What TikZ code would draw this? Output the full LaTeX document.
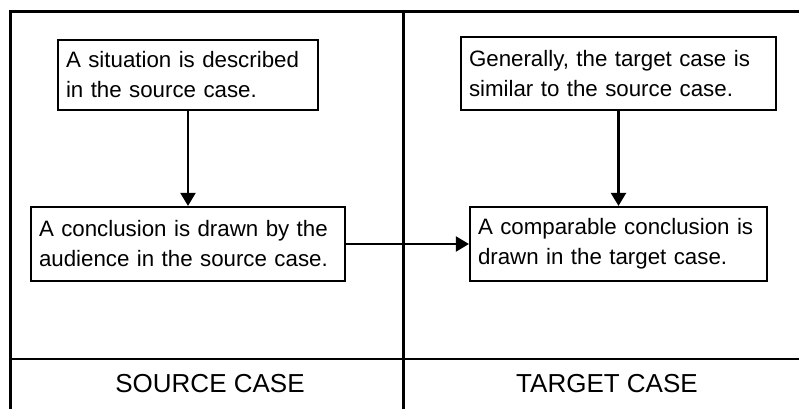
\documentclass[tikz,border=0pt]{standalone}
\usepackage{fontspec}
\setmainfont{Liberation Sans}
\usetikzlibrary{arrows.meta}
\begin{document}
\begin{tikzpicture}[x=1pt,y=-1pt,
  frame/.style={line width=3pt},
  casebox/.style={draw, line width=2.2pt, inner xsep=8pt, inner ysep=0pt, align=left,
    font=\fontsize{22.3}{30}\selectfont, anchor=center},
  flow/.style={line width=2.2pt, -{Triangle[length=13pt,width=15pt]}},
  caselabel/.style={font=\fontsize{26}{30}\selectfont, anchor=base}]
\useasboundingbox (0,0) rectangle (799,409);
\fill[white] (0,0) rectangle (799,409);
% frame
\coordinate (tl) at (10,12);
\coordinate (tr) at (799,12);
\coordinate (bl) at (10,409);
\coordinate (tm) at (403,12);
\coordinate (bm) at (403,409);
\coordinate (ml) at (10,359);
\coordinate (mr) at (799,359);
\draw[frame] (bl) -- (tl) -- (tr);
\draw[frame] (tm) -- (bm);
\draw[line width=2.4pt] (ml) -- (mr);
% boxes
\node[casebox, text width=244pt, minimum height=70pt] (s1) at (188,75)
  {A situation is described\\in the source case.};
\node[casebox, text width=298pt, minimum height=74pt] (s2) at (188,244)
  {A conclusion is drawn by the\\audience in the source case.};
\node[casebox, text width=299pt, minimum height=73pt] (t1) at (618.5,73.5)
  {Generally, the target case is\\similar to the source case.};
\node[casebox, text width=281pt, minimum height=74pt] (t2) at (618.5,244)
  {A comparable conclusion is\\drawn in the target case.};
% arrows
\draw[flow] (s1) -- (s2);
\draw[flow] (t1) -- (t2);
\draw[flow] (s2) -- (t2);
% labels
\node[caselabel] (lsrc) at (210,392) {SOURCE CASE};
\node[caselabel] (ltgt) at (607,392) {TARGET CASE};
\end{tikzpicture}
\end{document}
